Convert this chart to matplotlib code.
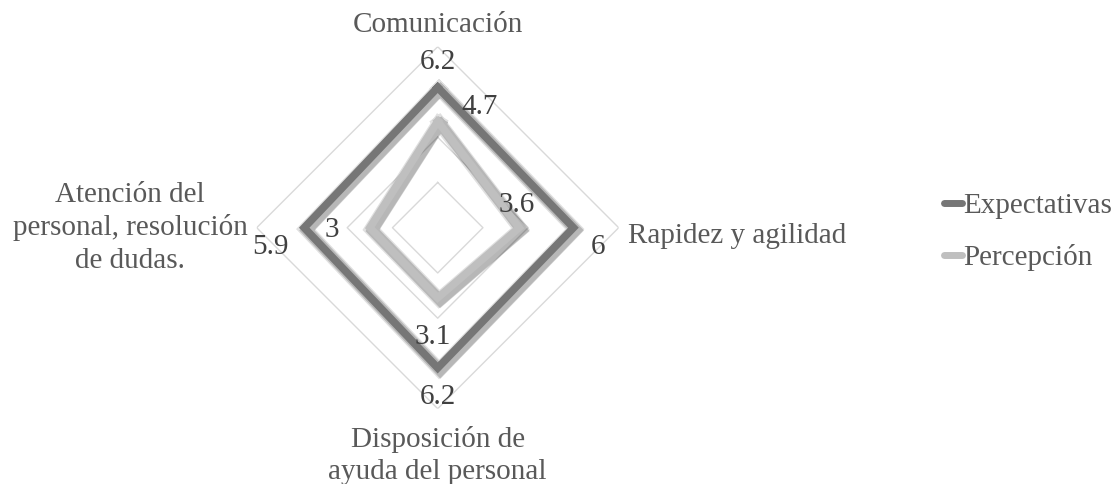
import matplotlib.pyplot as plt
import matplotlib.patheffects as pe
from matplotlib.lines import Line2D
import numpy as np

categories = ["Comunicación", "Rapidez y agilidad", "Disposición de\nayuda del personal",
              "Atención del\npersonal, resolución\nde dudas."]
expectativas = [6.2, 6, 6.2, 5.9]
percepcion = [4.7, 3.6, 3.1, 3]
ringLevels = [2, 4, 6, 8]

plt.rcParams['font.family'] = ['Liberation Serif', 'DejaVu Serif']

fig = plt.figure(figsize=(11.14, 4.84), dpi=100)
cx, cy, rad = 437.7, 484 - 227.7, 181 #Centre and outer radius in pixels
ax = fig.add_axes([(cx - rad) / 1114, (cy - rad) / 484, 2 * rad / 1114, 2 * rad / 484], projection="polar")
ax.set_theta_offset(np.pi / 2)
ax.set_theta_direction(-1)
ax.set_ylim(0, 8)
ax.grid(False)
ax.spines["polar"].set_visible(False)
ax.set_xticks([]); ax.set_yticks([])
ax.patch.set_alpha(0)

theta = np.linspace(0, 2 * np.pi, len(categories), endpoint=False)
closed = np.append(theta, theta[0])

for lv in ringLevels: #Diamond grid
    ax.plot(closed, [lv] * len(closed), color="#d9d9d9", lw=1.0, zorder=1)

shadow = [pe.SimpleLineShadow(offset=(2, -2), shadow_color="black", alpha=0.18, linewidth=8),
          pe.SimpleLineShadow(offset=(1, -1), shadow_color="black", alpha=0.12, linewidth=10),
          pe.Normal()]

colE, colP = "#767676", "#bfbfbf"
ax.plot(closed, expectativas + expectativas[:1], color=colE, lw=5.5, solid_joinstyle="miter",
        zorder=3, path_effects=shadow)
ax.plot(closed, percepcion + percepcion[:1], color=colP, lw=5.5, solid_joinstyle="miter",
        zorder=3, path_effects=shadow)

# data labels (pixel offsets from the point)
offE = [(0, 25), (25, -19), (0, -29), (-34, -19)]
offP = [(42, 14), (-2, 23), (-5, -39), (-38, -2)]
for t, v, o in zip(theta, expectativas, offE):
    ax.annotate(f"{v:g}", (t, v), xytext=o, textcoords="offset pixels", ha="center", va="center",
                fontsize=21, color="#404040", zorder=5)
for t, v, o in zip(theta, percepcion, offP):
    ax.annotate(f"{v:g}", (t, v), xytext=o, textcoords="offset pixels", ha="center", va="center",
                fontsize=21, color="#404040", zorder=5)

# category labels
catOff = [(0, 22), (9, -8), (0, -47), (-9, 0)]
catHa = ["center", "left", "center", "right"]
for t, c, o, h in zip(theta, categories, catOff, catHa):
    ax.annotate(c, (t, 8), xytext=o, textcoords="offset pixels", ha=h, va="center", multialignment="center",
                fontsize=21, color="#595959", linespacing=1.32, annotation_clip=False)

handles = [Line2D([], [], color=colE, lw=5, solid_capstyle="round", label="Expectativas"),
           Line2D([], [], color=colP, lw=5, solid_capstyle="round", label="Percepción")]
fig.legend(handles=handles, loc="center left", bbox_to_anchor=(944 / 1114, 1 - 232 / 484), frameon=False,
           fontsize=21, labelcolor="#595959", handlelength=0.6, handletextpad=0.05, labelspacing=0.85,
           borderaxespad=0, borderpad=0)

plt.savefig("out.png", dpi=100)
